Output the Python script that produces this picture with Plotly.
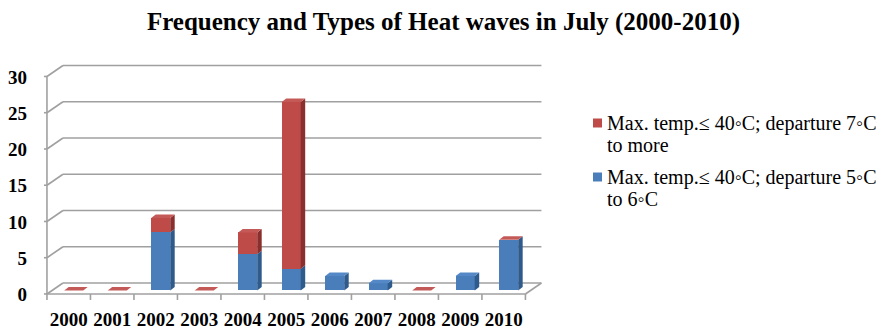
import plotly.graph_objects as go

# ---- data -------------------------------------------------------------
years = ["2000", "2001", "2002", "2003", "2004", "2005",
         "2006", "2007", "2008", "2009", "2010"]
dep_5_to_6 = [0, 0, 8, 0, 5, 3, 2, 1, 0, 2, 7]
# None = no entry for that year; 0 = entry with zero days
dep_7_more = [0, 0, 2, 0, 3, 23, None, None, 0, None, 0]
y_ticks = [0, 5, 10, 15, 20, 25, 30]

name_5_to_6 = "Max. temp.≤ 40◦C; departure 5◦C<br>to 6◦C"
name_7_more = "Max. temp.≤ 40◦C; departure 7◦C<br>to more"
title_text = "Frequency and Types of Heat waves in July (2000-2010)"

# ---- styling ----------------------------------------------------------
BLUE = dict(front="#4a7ebb", side="#2f5a8c", top="#5588c6")
RED = dict(front="#be4b48", side="#8a2f2d", top="#c45a57")
GRID = "#a0a0a0"
SERIF = "Liberation Serif, Times New Roman, serif"

# plot area in pixels (figure is 887 x 333)
W, H = 887, 333
L, R, T, B = 40, 548, 55, 302
X_RANGE = [-0.775, 10.904]
Y_RANGE = [-1.59, 32.48]
ux = (R - L) / (X_RANGE[1] - X_RANGE[0])   # px per category
uy = (B - T) / (Y_RANGE[1] - Y_RANGE[0])   # px per unit value

BAR_W = 0.437
# pseudo-3D offsets (pixels -> data units)
fx, fy = -5 / ux, -3.5 / uy      # front plane of the floor / axis
bx, by = 11 / ux, 7.5 / uy       # back wall
dx, dy = 4.5 / ux, 3.4 / uy      # depth of each bar

xs = list(range(len(years)))
x_lo, x_hi = -0.5, len(years) - 0.5


def poly(pts, fill, layer="above"):
    path = "M " + " L ".join(f"{x:.4f},{y:.4f}" for x, y in pts) + " Z"
    return dict(type="path", xref="x", yref="y", path=path,
                fillcolor=fill, layer=layer, line=dict(color=fill, width=0))


def seg(x0, y0, x1, y1, color=GRID, width=1.6):
    return dict(type="line", xref="x", yref="y", x0=x0, y0=y0, x1=x1, y1=y1,
                layer="below", line=dict(color=color, width=width))


shapes = []

# back-wall gridlines with their diagonal connectors to the front axis
for v in y_ticks:
    shapes.append(seg(x_lo + bx, v + by, x_hi + bx, v + by))
    shapes.append(seg(x_lo + fx, v + fy, x_lo + bx, v + by))
    shapes.append(seg(x_lo + fx - 3 / ux, v + fy, x_lo + fx, v + fy))

# front vertical axis
shapes.append(seg(x_lo + fx, fy, x_lo + fx, y_ticks[-1] + fy))
# floor: front edge and right edge
shapes.append(seg(x_lo + fx, fy, x_hi + fx, fy))
shapes.append(seg(x_hi + fx, fy, x_hi + bx, by))
# category tick marks under the floor's front edge
for i in range(len(years) + 1):
    c = i - 0.5 + fx
    shapes.append(seg(c, fy, c, fy - 6 / uy))

# side and top faces of the stacked bars
for x, b, r in zip(xs, dep_5_to_6, dep_7_more):
    right = x + BAR_W / 2
    left = x - BAR_W / 2
    segments = [(0, b, BLUE)]
    if r is not None:
        segments.append((b, b + r, RED))
    for y0, y1, col in segments:
        if y1 > y0:
            shapes.append(poly([(right, y0), (right + dx, y0 + dy),
                                (right + dx, y1 + dy), (right, y1)], col["side"]))
    top = b + (r or 0)
    col = RED if r is not None else BLUE
    shapes.append(poly([(left, top), (right, top), (right + dx, top + dy),
                        (left + dx, top + dy)], col["top"]))

fig = go.Figure()
fig.add_trace(go.Bar(x=xs, y=dep_5_to_6, width=BAR_W, name=name_5_to_6,
                     marker=dict(color=BLUE["front"], line=dict(width=0))))
fig.add_trace(go.Bar(x=xs, y=dep_7_more, width=BAR_W, name=name_7_more,
                     marker=dict(color=RED["front"], line=dict(width=0))))

# legend drawn by hand: square swatch + wrapped label lines
annotations = []
legend_items = [(name_7_more, RED["front"], 123), (name_5_to_6, BLUE["front"], 177)]
line_gap = 21.5


def px_to_paper(px, py):
    return (px - L) / (R - L), (B - py) / (B - T)


for name, color, yc in legend_items:
    sx0, sy0 = px_to_paper(593, yc - 4.5)
    sx1, sy1 = px_to_paper(602, yc + 4.5)
    shapes.append(dict(type="rect", xref="paper", yref="paper",
                       x0=sx0, x1=sx1, y0=sy0, y1=sy1,
                       fillcolor=color, line=dict(width=0)))
    for k, text_line in enumerate(name.split("<br>")):
        ax, ay = px_to_paper(605, yc + k * line_gap)
        annotations.append(dict(xref="paper", yref="paper", x=ax, y=ay,
                                xanchor="left", yanchor="middle",
                                text=text_line, showarrow=False,
                                font=dict(family=SERIF, size=20, color="#000")))

tick_font = dict(family=SERIF, size=19, color="#000", weight="bold")

fig.update_layout(
    width=W, height=H,
    margin=dict(l=L, r=W - R, t=T, b=H - B, pad=0),
    paper_bgcolor="white", plot_bgcolor="white",
    barmode="stack", bargap=0, showlegend=False,
    title=dict(text=f"<b>{title_text}</b>", x=0.5, xref="container",
               xanchor="center", y=1 - 21 / H, yanchor="middle",
               font=dict(family=SERIF, size=25, color="#000")),
    xaxis=dict(range=X_RANGE, tickvals=xs, ticktext=years, showgrid=False,
               zeroline=False, showline=False, ticks="", automargin=False,
               ticklabelshift=-5, ticklabelstandoff=4, tickfont=tick_font),
    yaxis=dict(range=Y_RANGE, tickvals=y_ticks, showgrid=False,
               zeroline=False, showline=False, ticks="", automargin=False,
               ticklabelshift=4, ticklabelstandoff=12, tickfont=tick_font),
    shapes=shapes,
    annotations=annotations,
)

fig.write_html("out.html")
